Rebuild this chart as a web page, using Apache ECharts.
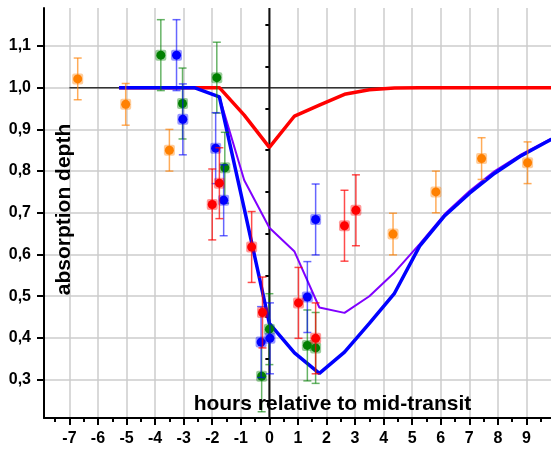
<!DOCTYPE html>
<html>
<head>
<meta charset="utf-8">
<script src="https://cdn.jsdelivr.net/npm/echarts@6/dist/echarts.min.js"></script>
<style>
  html, body { margin: 0; padding: 0; background: #fff; }
  #chart { width: 551px; height: 449px; }
</style>
</head>
<body>
<div id="chart"></div>
<script>
// axis ranges and tick values
const X_MIN = -7.89
const X_MAX = 9.86
const Y_MIN = 0.208
const Y_MAX = 1.191
const xMajorTicks = [-7, -6, -5, -4, -3, -2, -1, 0, 1, 2, 3, 4, 5, 6, 7, 8, 9]
const xMinorTicks = [-7.5, -6.5, -5.5, -4.5, -3.5, -2.5, -1.5, -0.5, 0.5, 1.5, 2.5, 3.5, 4.5, 5.5, 6.5, 7.5, 8.5, 9.5]
const yMajorTicks = [0.3, 0.4, 0.5, 0.6, 0.7, 0.8, 0.9, 1.0, 1.1]
const yMinorTicks = [0.25, 0.35, 0.45, 0.55, 0.65, 0.75, 0.85, 0.95, 1.05, 1.15]

// model curves
const modelHours = [-5.26, -4.38, -3.5, -2.63, -1.75, -0.88, 0, 0.88, 1.75, 2.63, 3.5, 4.38, 5.26, 6.14, 7.01, 7.89, 8.77, 9.65, 10.52]
const redModel = [1, 1, 1, 1, 1, 0.934, 0.857, 0.932, 0.958, 0.984, 0.995, 0.999, 1, 1, 1, 1, 1, 1, 1]
const blueModel = [1, 1, 1, 1, 0.978, 0.71, 0.435, 0.364, 0.315, 0.366, 0.435, 0.507, 0.62, 0.693, 0.747, 0.795, 0.835, 0.868, 0.9]
const purpleModel = [1, 1, 1, 1, 0.978, 0.778, 0.664, 0.607, 0.473, 0.46, 0.5, 0.557, 0.625, 0.697, 0.752, 0.8, 0.838, 0.87, 0.9]

// measurements
const orangeHours = [-6.71, -5.03, -3.5, 4.33, 5.83, 7.43, 9.04]
const orangeDepth = [1.021, 0.96, 0.85, 0.649, 0.75, 0.83, 0.82]
const orangeErr = [0.05, 0.05, 0.05, 0.05, 0.05, 0.05, 0.05]

const greenHours = [-3.8, -3.04, -1.84, -1.56, -0.27, 0.0, 1.33, 1.62]
const greenDepth = [1.078, 0.962, 1.024, 0.808, 0.308, 0.421, 0.382, 0.376]
const greenErr = [0.085, 0.085, 0.085, 0.085, 0.085, 0.085, 0.085, 0.085]

const blueHours = [-3.25, -3.03, -1.88, -1.6, -0.29, 0.02, 1.33, 1.62]
const blueDepth = [1.078, 0.924, 0.855, 0.73, 0.39, 0.399, 0.498, 0.684]
const blueErr = [0.085, 0.085, 0.085, 0.085, 0.085, 0.085, 0.085, 0.085]

const redHours = [-2.0, -1.75, -0.62, -0.24, 1.02, 1.62, 2.63, 3.03]
const redDepth = [0.72, 0.771, 0.618, 0.461, 0.484, 0.399, 0.669, 0.706]
const redErr = [0.085, 0.085, 0.085, 0.085, 0.085, 0.085, 0.085, 0.085]

// reference lines
const refLevelHours = [-7, X_MAX]
const refLevel = 1.0
const midTransit = 0

const FONT = '"Liberation Sans", Arial, sans-serif'

function zip(a, b, c) {
  return a.map((v, i) => c ? [v, b[i], c[i]] : [v, b[i]])
}

function pointSeries(hours, depth, err, color, barColor) {
  return {
    type: 'custom',
    z: 5,
    data: zip(hours, depth, err),
    encode: { x: 0, y: 1 },
    renderItem(params, api) {
      const x = api.value(0)
      const y = api.value(1)
      const e = api.value(2)
      const c = api.coord([x, y])
      const top = api.coord([x, y + e])
      const bot = api.coord([x, y - e])
      const cap = 4
      const bar = { stroke: barColor, lineWidth: 1.5 }
      return {
        type: 'group',
        children: [
          { type: 'line', shape: { x1: c[0], y1: top[1], x2: c[0], y2: bot[1] }, style: bar },
          { type: 'line', shape: { x1: c[0] - cap, y1: top[1], x2: c[0] + cap, y2: top[1] }, style: bar },
          { type: 'line', shape: { x1: c[0] - cap, y1: bot[1], x2: c[0] + cap, y2: bot[1] }, style: bar },
          { type: 'rect', shape: { x: c[0] - 5.5, y: c[1] - 5.5, width: 11, height: 11, r: 2 }, style: { fill: color, opacity: 0.4 } },
          { type: 'circle', shape: { cx: c[0], cy: c[1], r: 4.5 }, style: { fill: color } }
        ]
      }
    }
  }
}

function modelSeries(values, color, width) {
  return {
    type: 'line',
    z: 3,
    data: zip(modelHours, values),
    symbol: 'none',
    lineStyle: { color: color, width: width },
    clip: true
  }
}

const chart = echarts.init(document.getElementById('chart'))
chart.setOption({
  animation: false,
  grid: { left: 44, right: 0, top: 8, bottom: 31 },
  xAxis: [
    {
      type: 'value', min: X_MIN, max: X_MAX, position: 'bottom',
      axisLine: { show: true, onZero: false, lineStyle: { color: '#000', width: 2 } },
      axisTick: { show: true, customValues: xMajorTicks, length: 7, lineStyle: { color: '#000', width: 2 } },
      axisLabel: { customValues: xMajorTicks, fontSize: 16, fontWeight: 'bold', fontFamily: FONT, color: '#000', margin: 13 },
      splitLine: { show: true, lineStyle: { color: '#cccccc', width: 1.5 } }
    },
    {
      type: 'value', min: X_MIN, max: X_MAX, position: 'bottom',
      axisLine: { show: false },
      axisTick: { show: true, customValues: xMinorTicks, length: 4, lineStyle: { color: '#000', width: 2 } },
      axisLabel: { show: false },
      splitLine: { show: false }
    }
  ],
  yAxis: [
    {
      type: 'value', min: Y_MIN, max: Y_MAX, position: 'left',
      axisLine: { show: true, onZero: false, lineStyle: { color: '#000', width: 2 } },
      axisTick: { show: true, customValues: yMajorTicks, length: 7, lineStyle: { color: '#000', width: 2 } },
      axisLabel: {
        customValues: yMajorTicks, fontSize: 16, fontWeight: 'bold', fontFamily: FONT, color: '#000', margin: 13,
        formatter: v => v.toFixed(1).replace('.', ',')
      },
      splitLine: { show: true, lineStyle: { color: '#cccccc', width: 1.5 } }
    },
    {
      type: 'value', min: Y_MIN, max: Y_MAX, position: 'left',
      axisLine: { show: false },
      axisTick: { show: true, customValues: yMinorTicks, length: 4, lineStyle: { color: '#000', width: 2 } },
      axisLabel: { show: false },
      splitLine: { show: false }
    }
  ],
  graphic: [
    {
      type: 'text', x: 332.5, y: 404, z: 10,
      style: { text: 'hours relative to mid-transit', font: 'bold 21px ' + FONT, fill: '#000', align: 'center', verticalAlign: 'middle' }
    },
    {
      type: 'text', x: 64.6, y: 209.5, rotation: Math.PI / 2, z: 10,
      style: { text: 'absorption depth', font: 'bold 21px ' + FONT, fill: '#000', align: 'center', verticalAlign: 'middle' }
    }
  ],
  series: [
    {
      type: 'line', z: 2, symbol: 'none',
      data: refLevelHours.map(h => [h, refLevel]),
      lineStyle: { color: '#333', width: 1.5 }
    },
    {
      type: 'line', z: 2, symbol: 'none',
      data: [[midTransit, Y_MIN], [midTransit, Y_MAX]],
      lineStyle: { color: '#111', width: 2 }
    },
    modelSeries(redModel, '#ff0000', 3.5),
    modelSeries(purpleModel, '#8000ff', 2),
    modelSeries(blueModel, '#0000ff', 3.5),
    pointSeries(orangeHours, orangeDepth, orangeErr, '#ff8000', 'rgba(255,128,0,0.65)'),
    pointSeries(greenHours, greenDepth, greenErr, '#008000', 'rgba(0,128,0,0.6)'),
    pointSeries(blueHours, blueDepth, blueErr, '#0000ff', 'rgba(0,0,255,0.6)'),
    pointSeries(redHours, redDepth, redErr, '#ff0000', 'rgba(255,0,0,0.7)')
  ]
})
</script>
</body>
</html>
